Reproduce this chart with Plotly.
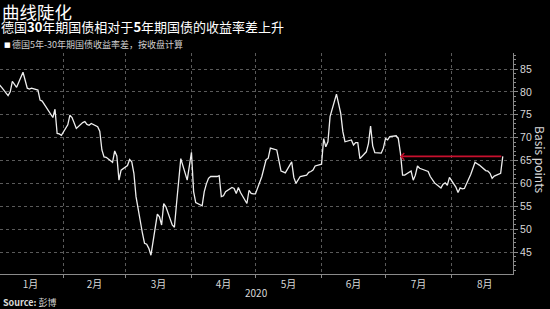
import plotly.graph_objects as go
import pandas as pd

# Trading days shown on the chart (2 Jan 2020 - 25 Aug 2020)
dates = pd.bdate_range("2020-01-02", "2020-08-25")

# German 5y-30y yield spread, basis points
spread_jan_feb = [
    81.5, 81.0, 79.2, 80.0, 82.3, 81.5, 81.0, 84.3, 82.7, 80.8,
    80.6, 80.8, 80.4, 78.2, 78.0, 77.3, 76.4, 74.4, 76.2, 70.9,
    70.8, 70.5, 72.8, 74.9, 74.4, 73.1, 72.0, 73.3, 73.5, 72.9,
    72.7, 73.1, 72.4, 71.4, 67.3, 65.8, 65.7, 64.6, 67.1, 66.0,
]
spread_mar_apr = [
    60.7, 62.9, 63.9, 65.2, 64.7, 62.2, 57.1, 49.1, 46.9, 46.7,
    45.8, 44.3, 53.3, 52.7, 50.9, 55.6, 54.9, 50.9, 50.4, 55.6,
    60.7, 65.4, 60.7, 63.6, 66.8, 58.2, 55.8, 55.1, 58.2, 59.9,
    61.1, 61.5, 61.5, 61.7, 57.1, 57.3, 58.2, 59.1, 58.9, 57.8,
    59.1, 58.0, 55.6,
]
spread_may_jun = [
    58.5, 57.8, 57.7, 57.7, 61.5, 63.3, 65.2, 65.5, 67.7, 67.3,
    64.7, 62.7, 62.5, 62.3, 64.7, 61.3, 60.0, 60.7, 61.5, 61.8,
    62.4, 62.6, 62.9, 63.8, 64.2, 69.8, 68.0, 69.1, 74.6, 79.5,
    77.1, 75.3, 71.3, 69.1, 69.5, 68.4, 68.9, 68.9, 65.4,
]
spread_jun_jul = [
    66.9, 68.7, 72.5, 68.2, 66.7, 66.6, 67.7, 69.8, 69.5, 70.2,
    70.4, 69.8, 66.6, 61.8, 61.8, 62.7, 60.7, 61.8, 63.8, 63.3,
    62.7,
]
spread_jul_aug = [
    62.6, 61.5, 60.7, 60.1, 59.0, 59.8, 60.1, 59.6, 61.3, 59.2,
    58.0, 59.0, 58.8, 58.9, 62.0, 63.5, 64.6, 64.3, 64.0, 62.8,
    62.7, 62.2, 61.1, 61.6, 62.2, 65.9,
]
spread = spread_jan_feb + spread_mar_apr + spread_may_jun + spread_jun_jul + spread_jul_aug

# Red reference arrow (level reached again at the latest close)
arrow_start = "2020-07-07 18:00"
arrow_end = "2020-08-25"
arrow_level = 65.9

x_range = ["2020-01-02 05:00", "2020-08-29 19:00"]
y_range = [40.19, 88.5]

title = "曲线陡化"
subtitle = "德国<b>30</b>年期国债相对于<b>5</b>年期国债的收益率差上升"
legend_text = "德国5年-30年期国债收益率差，按收盘计算"
source_text = "<b>Source: </b>彭博"
year_label = "2020"
y_title = "Basis points"

CJK = "Noto Sans CJK SC, Liberation Sans, sans-serif"

fig = go.Figure()
fig.add_trace(go.Scatter(
    x=dates, y=spread, mode="lines",
    line=dict(color="#eeeeee", width=1.3),
    showlegend=False, hoverinfo="skip",
))

W, H = 550, 309
ml, mr, mt, mb = 0, 37, 53, 35
ph = H - mt - mb
pw = W - ml - mr

def py(ypx):
    return (H - mb - ypx) / ph

def px(xpx):
    return (xpx - ml) / pw

annotations = [
    dict(text=title, x=px(1), y=py(11), xref="paper", yref="paper",
         xanchor="left", yanchor="middle", showarrow=False, borderpad=0,
         font=dict(size=17.5, color="#ffffff", family=CJK)),
    dict(text=subtitle, x=px(0), y=py(27), xref="paper", yref="paper",
         xanchor="left", yanchor="middle", showarrow=False, borderpad=0,
         font=dict(size=13, color="#ffffff", family=CJK)),
    dict(text="■", x=px(3), y=py(45), xref="paper", yref="paper",
         xanchor="left", yanchor="middle", showarrow=False, borderpad=0,
         font=dict(size=7, color="#ffffff", family="DejaVu Sans")),
    dict(text=legend_text, x=px(11), y=py(45), xref="paper", yref="paper",
         xanchor="left", yanchor="middle", showarrow=False, borderpad=0,
         font=dict(size=9, color="#d0d0d0", family=CJK)),
    dict(text=source_text, x=px(2), y=py(302.5), xref="paper", yref="paper",
         xanchor="left", yanchor="middle", showarrow=False, borderpad=0,
         font=dict(size=9, color="#d8d8d8", family=CJK)),
    dict(text=year_label, x=0.5, y=py(292.5), xref="paper", yref="paper",
         xanchor="center", yanchor="middle", showarrow=False, borderpad=0,
         font=dict(size=10, color="#d8d8d8", family=CJK)),
    dict(text=y_title, x=px(541), y=py(160), xref="paper", yref="paper",
         xanchor="center", yanchor="middle", showarrow=False, textangle=90,
         font=dict(size=12, color="#d8d8d8", family=CJK)),
    dict(text="", x=arrow_start, y=arrow_level, xref="x", yref="y",
         ax=arrow_end, ay=arrow_level, axref="x", ayref="y",
         showarrow=True, arrowhead=4, arrowsize=0.8, arrowwidth=1.6,
         arrowcolor="#c8102e", standoff=0, startstandoff=0),
]

fig.update_layout(
    width=W, height=H,
    margin=dict(l=ml, r=mr, t=mt, b=mb, pad=0),
    paper_bgcolor="#000000", plot_bgcolor="#000000",
    font=dict(family=CJK, color="#d8d8d8"),
    annotations=annotations,
    xaxis=dict(
        type="date", range=x_range, tick0="2020-01-01", dtick="M1",
        ticklabelmode="period", tickformat="%-m月",
        showgrid=True, gridcolor="#5a5a5a", griddash="dot", gridwidth=1,
        ticks="outside", ticklen=3, tickcolor="#8a8a8a",
        ticklabelstandoff=-2,
        showline=True, linecolor="#8a8a8a", linewidth=1,
        tickfont=dict(size=10, color="#d8d8d8", family=CJK),
        zeroline=False, fixedrange=True,
    ),
    yaxis=dict(
        side="right", range=y_range, tick0=0, dtick=5,
        showgrid=True, gridcolor="#5a5a5a", griddash="dot", gridwidth=1,
        ticks="outside", ticklen=4, tickcolor="#8a8a8a",
        showline=True, linecolor="#8a8a8a", linewidth=1,
        tickfont=dict(size=10.5, color="#d8d8d8", family="Liberation Sans"),
        minor=dict(ticks="outside", ticklen=2, dtick=1, tickcolor="#8a8a8a", showgrid=False),
        zeroline=False, fixedrange=True,
    ),
)

fig.write_html("out.html")
